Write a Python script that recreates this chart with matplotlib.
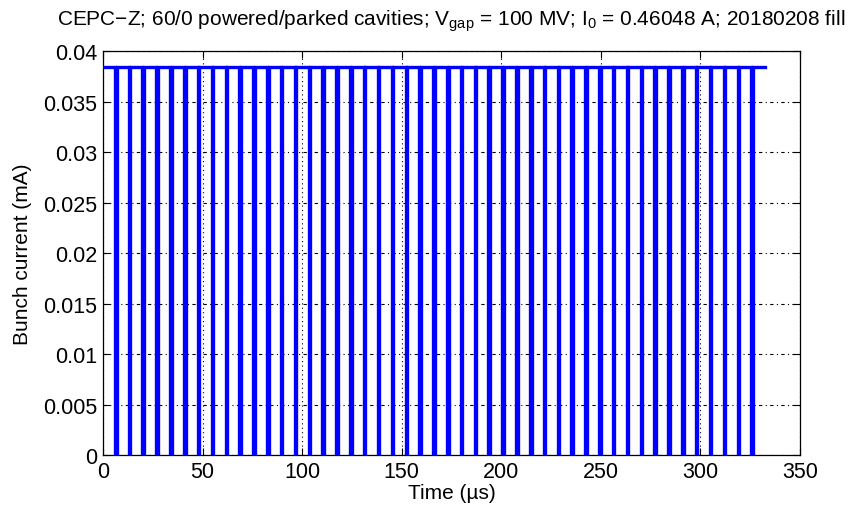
import numpy as np
import matplotlib.pyplot as plt

plt.rcParams['font.family'] = ['Liberation Sans', 'DejaVu Sans']
plt.rcParams['mathtext.fontset'] = 'custom'
plt.rcParams['mathtext.rm'] = 'Liberation Sans'
plt.rcParams['mathtext.it'] = 'Liberation Sans'

# bunch current during the trains (mA) and end of the fill (us)
bunch_current = 0.03845
t_start = 0.0
t_end = 332.5

# centres of the gaps between bunch trains (us)
gap_centres = [6.4, 13.3, 20.2, 27.2, 34.2, 41.1, 48.0, 55.0, 62.0, 68.9,
               75.8, 82.8, 89.7, 96.7, 103.6, 110.6, 117.5, 124.5, 131.4, 138.4,
               145.3, 152.3, 159.2, 166.2, 173.1, 180.1, 187.0, 193.9, 200.9, 207.8,
               214.8, 221.7, 228.7, 235.6, 242.6, 249.5, 256.4, 263.4, 270.3, 277.3,
               284.2, 291.2, 298.1, 305.1, 312.0, 319.0, 325.9]
gap_width = 0.8

xticks = [0, 50, 100, 150, 200, 250, 300, 350]
yticks = [0, 0.005, 0.01, 0.015, 0.02, 0.025, 0.03, 0.035, 0.04]
ytick_labels = ['0', '0.005', '0.01', '0.015', '0.02', '0.025', '0.03', '0.035', '0.04']

# step profile: current drops to zero inside each gap
t = [t_start]
I = [bunch_current]
for g in gap_centres:
    a, b = g - gap_width / 2, g + gap_width / 2
    t += [a, a, b, b]
    I += [bunch_current, 0, 0, bunch_current]
t.append(t_end)
I.append(bunch_current)

fig = plt.figure(figsize=(8.67, 5.1), dpi=100)
ax = fig.add_axes([0.1188, 0.1059, 0.804, 0.792])

ax.plot(t, I, color='#0000ff', lw=2.4, solid_joinstyle='miter', zorder=3)

ax.set_xlim(0, 350)
ax.set_ylim(0, 0.04)
ax.set_xticks(xticks)
ax.set_xticklabels([str(v) for v in xticks])
ax.set_yticks(yticks)
ax.set_yticklabels(ytick_labels)

ax.xaxis.grid(True, color='k', lw=0.8, linestyle=(0, (1, 3)), zorder=1)
ax.yaxis.grid(True, color='k', lw=0.8, linestyle=(0, (3, 3, 1, 3)), zorder=1)
ax.set_axisbelow(True)

ax.tick_params(direction='in', length=5, width=0.8, top=True, right=True,
               labelsize=15.5, pad=4)
for s in ax.spines.values():
    s.set_linewidth(0.9)

ax.set_xlabel('Time (\u00b5s)', fontsize=15, labelpad=1)
ax.set_ylabel('Bunch current (mA)', fontsize=15, labelpad=8)
ax.set_title(r'CEPC$-$Z; 60/0 powered/parked cavities; V$_{\mathrm{gap}}$ = 100 MV; '
             r'I$_0$ = 0.46048 A; 20180208 fill', fontsize=15, pad=19)

fig.savefig('out.png', dpi=100)
